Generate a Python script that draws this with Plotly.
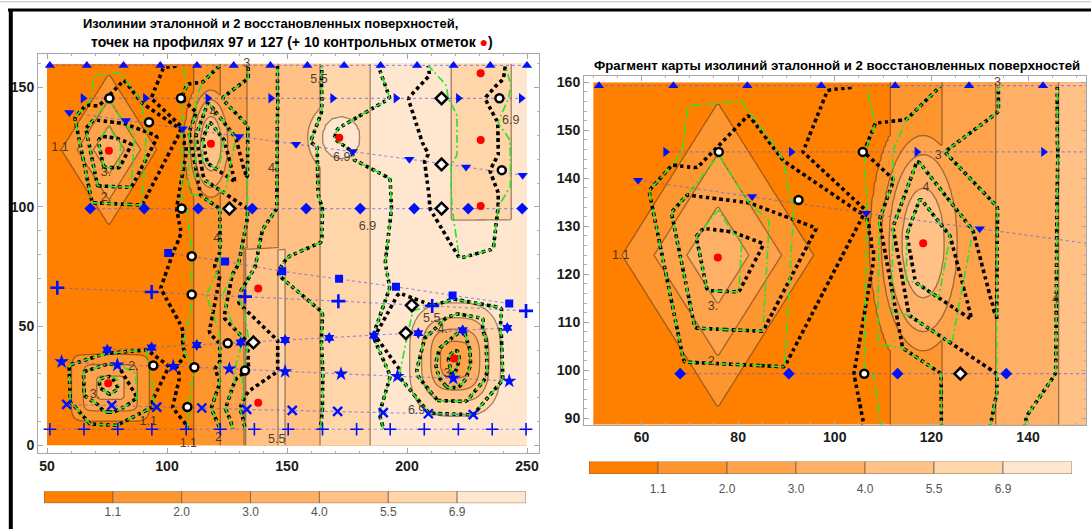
import numpy as np
import plotly.graph_objects as go

# ---------------- contour levels / colours ----------------
levels = [1.1, 2.0, 3.0, 4.0, 5.5, 6.9]
level_text = ["1.1", "2.0", "3.0", "4.0", "5.5", "6.9"]
band_colors = ["#FF8000", "#FE9630", "#FEA34B", "#FEB066", "#FFC185", "#FFD5AA", "#FFE7CF"]
band_span = [1, 1, 1, 1, 1, 1, 1]
band_base = [0, 1, 2, 3, 4, 5, 6]

# ---------------- reference surface ----------------
bg_x = [46.0, 111.6, 122.2, 133.3, 146.3, 163.75, 184.2, 256.0]
bg_z = [0.55, 1.1, 2.0, 3.0, 4.0, 5.5, 6.9, 7.6]

diamond = dict(cx=75.8, cy=124.0, p=1, ys=1.6, r=[0, 6.4, 13.2, 19.8, 32], z=[3.92, 3.0, 2.0, 1.1, 0.0])
oval = dict(cx=118.3, cy=126.5, p=2, ys=2.6, r=[0, 4.4, 7.1, 8.6, 11.0, 18.0], z=[5.2, 4.0, 3.0, 2.0, 1.1, 0.0])
square = dict(cx=76.4, cy=24.2, p=8, ys=0.863, r=[0, 5.7, 11.25, 16.1, 26], z=[3.9, 3.0, 2.0, 1.1, 0.0])
bump = dict(cx=172.6, cy=129.0, p=2, ys=1.12, r=[0, 8.0, 14.0, 22.0, 30.0], z=[7.25, 6.9, 5.5, 3.0, 0.0])
pit = dict(cx=220.1, cy=36.0, p=3, ys=1.25, r=[0, 6.3, 10.2, 14.0, 18.9, 24.0], z=[2.5, 3.0, 4.0, 5.5, 6.9, 7.7])
raise_x = [132.5, 149.0]
raise_y = [-10.0, 82.0]
raise_dz = 1.5
dip_x = [218.3, 243.6]
dip_y = [94.3, 170.0]
dip_z = 6.45

# ---------------- profile points (97) ----------------
p1_x = [51.2, 65.4, 79.5, 93.7, 108.0, 122.2, 136.4, 150.5, 164.8, 179.0, 193.0, 207.2, 221.4, 235.5, 249.6]
p1_y = [6.8, 6.8, 6.8, 6.8, 6.8, 6.8, 6.8, 6.8, 6.8, 6.8, 6.8, 6.8, 6.8, 6.8, 6.8]
p2_x = [58.2, 77.0, 95.7, 114.5, 133.2, 152.2, 171.1, 190.1, 208.9, 227.6]
p2_y = [17.2, 16.8, 16.1, 15.7, 15.1, 14.7, 14.3, 13.75, 13.3, 12.9]
p3_x = [56.1, 79.3, 102.6, 126.0, 149.2, 172.5, 196.0, 219.3, 242.6]
p3_y = [35.1, 33.75, 33.2, 32.1, 31.0, 30.0, 29.0, 28.2, 27.0]
p4_x = [75.1, 93.6, 112.4, 130.7, 149.2, 167.6, 186.25, 204.7, 223.2, 241.8]
p4_y = [40.1, 41.1, 42.1, 43.2, 44.2, 45.1, 46.0, 47.1, 48.3, 49.3]
p5_x = [54.3, 93.6, 132.5, 171.4, 210.5, 249.6]
p5_y = [66.1, 64.3, 62.4, 60.5, 58.5, 56.4]
p6_x = [100.5, 124.2, 148.0, 171.7, 195.4, 219.0, 242.6]
p6_y = [80.7, 77.1, 73.0, 69.9, 66.5, 62.9, 59.5]
p7_x = [68.0, 90.5, 113.0, 135.5, 158.0, 180.5, 203.0, 225.5, 248.0]
p7_y = [99.3, 99.3, 99.3, 99.3, 99.3, 99.3, 99.3, 99.3, 99.3]
p8_x = [59.3, 82.9, 106.5, 130.0, 153.75, 177.4, 201.0, 224.6, 248.2]
p8_y = [139.6, 136.2, 132.7, 129.5, 126.3, 123.25, 120.0, 116.7, 113.25]
p9_x = [65.0, 91.0, 117.0, 143.2, 169.0, 195.4, 221.4, 247.6]
p9_y = [145.5, 145.5, 145.5, 145.5, 145.5, 145.5, 145.5, 145.5]
p10_x = [51.2, 66.6, 81.9, 97.2, 112.5, 127.8, 143.1, 158.5, 173.8, 189.0, 204.2, 219.4, 234.7, 250.0]
p10_y = [159.3, 159.3, 159.3, 159.3, 159.3, 159.3, 159.3, 159.3, 159.3, 159.3, 159.3, 159.3, 159.3, 159.3]

profiles = [
    (p1_x, p1_y, "cross-thin", 9, 1.6),
    (p2_x, p2_y, "x-thin", 9, 2.4),
    (p3_x, p3_y, "star", 11, 0),
    (p4_x, p4_y, "hexagram", 9, 0),
    (p5_x, p5_y, "cross-thin", 10, 2.6),
    (p6_x, p6_y, "square", 8, 0),
    (p7_x, p7_y, "diamond", 9, 0),
    (p8_x, p8_y, "triangle-down", 9, 0),
    (p9_x, p9_y, "triangle-right", 9, 0),
    (p10_x, p10_y, "triangle-up", 9, 0),
]

exc_x = [76.0, 92.5, 105.8, 106.1, 110.3, 110.3, 94.3, 111.4, 108.5, 125.3, 132.5, 238.5, 239.5]
exc_y = [145.5, 135.5, 145.5, 99.3, 79.3, 63.3, 33.5, 32.8, 16.1, 42.8, 31.4, 145.5, 115.4]
exd_x = [126.0, 136.0, 214.4, 214.4, 214.4, 202.0, 199.5]
exd_y = [99.3, 43.2, 145.5, 117.8, 99.3, 58.75, 47.1]
red_x = [75.8, 118.3, 171.8, 230.7, 230.7, 230.7, 138.0, 138.0, 75.5, 219.6]
red_y = [123.5, 126.5, 129.0, 156.0, 128.0, 100.4, 65.8, 17.9, 26.1, 36.5]

labL_x = [55.4, 74.6, 74.6, 133.2, 119.2, 144.3, 121.4, 163.3, 172.8, 183.5, 243.2, 108.9, 121.4, 92.2, 86.0, 70.0, 145.7, 210.3, 214.9, 217.5, 204.0]
labL_y = [124.6, 114.3, 103.9, 159.9, 139.5, 116.1, 86.5, 153.2, 120.7, 91.8, 136.0, 0.6, 3.2, 9.9, 32.8, 21.25, 2.2, 53.2, 48.5, 30.0, 14.7]
labL_t = ["1.1", "3.", "2.", "3", "4", "4.", "4.", "5.5", "6.9", "6.9", "6.9", "1.1", "2", "1.1", "2.", "3.", "5.5", "5.5", "4.", "3.", "6.9"]
labR_x = [55.7, 74.8, 74.8, 133.7, 118.9, 121.4, 145.7]
labR_y = [123.9, 113.3, 101.8, 159.9, 138.1, 144.6, 114.7]
labR_t = ["1.1", "3.", "2.", "3", "4", "3", "4"]


def feature(X, Y, f):
    dx = np.abs(X - f["cx"])
    dy = np.abs(Y - f["cy"]) / f["ys"]
    d = (dx ** f["p"] + dy ** f["p"]) ** (1.0 / f["p"])
    return np.interp(d, f["r"], f["z"])


def ref_surface(X, Y):
    Z = np.interp(X, bg_x, bg_z)
    for f in (diamond, oval, square, bump):
        Z = np.maximum(Z, feature(X, Y, f))
    inr = (X >= raise_x[0]) & (X <= raise_x[1]) & (Y >= raise_y[0]) & (Y <= raise_y[1])
    Z = np.where(inr, Z + raise_dz, Z)
    ind = (X >= dip_x[0]) & (X <= dip_x[1]) & (Y >= dip_y[0]) & (Y <= dip_y[1])
    Z = np.where(ind, dip_z, Z)
    Z = np.minimum(Z, feature(X, Y, pit))
    return Z


map_in = [-5.0] + levels + [12.0]
map_out = [1 - (1.1 + 5.0) / 0.9, 1, 2, 3, 4, 5, 6, 6 + (12.0 - 6.9) / 1.4]


def to_idx(z):
    out = np.interp(np.nan_to_num(z, nan=0.0), map_in, map_out)
    out[np.isnan(z)] = np.nan
    return out


def delaunay(px, py):
    pts = np.column_stack([px, py]).astype(float)
    n = len(pts)
    cx, cy = pts.mean(0)
    span = np.ptp(pts, axis=0).max() * 50.0
    allp = np.vstack([pts, [[cx - span, cy - span], [cx + span, cy - span], [cx, cy + span]]])

    def circ(t):
        (ax, ay), (bx, by), (qx, qy) = allp[list(t)]
        d = 2 * (ax * (by - qy) + bx * (qy - ay) + qx * (ay - by))
        if abs(d) < 1e-12:
            return 0.0, 0.0, np.inf
        a2, b2, q2 = ax * ax + ay * ay, bx * bx + by * by, qx * qx + qy * qy
        ux = (a2 * (by - qy) + b2 * (qy - ay) + q2 * (ay - by)) / d
        uy = (a2 * (qx - bx) + b2 * (ax - qx) + q2 * (bx - ax)) / d
        return ux, uy, (ax - ux) ** 2 + (ay - uy) ** 2

    tris = {(n, n + 1, n + 2): circ((n, n + 1, n + 2))}
    for i in range(n):
        x, y = allp[i]
        bad = [t for t, (ux, uy, r2) in tris.items() if (x - ux) ** 2 + (y - uy) ** 2 < r2]
        cnt = {}
        for t in bad:
            for e in ((t[0], t[1]), (t[1], t[2]), (t[2], t[0])):
                k = (min(e), max(e))
                cnt[k] = cnt.get(k, 0) + 1
            del tris[t]
        for (a, b), c in cnt.items():
            if c == 1:
                t = (a, b, i)
                tris[t] = circ(t)
    return pts, [t for t in tris if max(t) < n]


def tri_interp(px, py, vals, gx, gy):
    pts, tris = delaunay(px, py)
    vals = np.asarray(vals, float)
    X, Y = np.meshgrid(gx, gy)
    Z = np.full(X.shape, np.nan)
    for a, b, c in tris:
        (x1, y1), (x2, y2), (x3, y3) = pts[a], pts[b], pts[c]
        det = (y2 - y3) * (x1 - x3) + (x3 - x2) * (y1 - y3)
        if abs(det) < 1e-12:
            continue
        i0 = np.searchsorted(gx, min(x1, x2, x3))
        i1 = np.searchsorted(gx, max(x1, x2, x3), side="right")
        j0 = np.searchsorted(gy, min(y1, y2, y3))
        j1 = np.searchsorted(gy, max(y1, y2, y3), side="right")
        if i1 <= i0 or j1 <= j0:
            continue
        sx = X[j0:j1, i0:i1]
        sy = Y[j0:j1, i0:i1]
        l1 = ((y2 - y3) * (sx - x3) + (x3 - x2) * (sy - y3)) / det
        l2 = ((y3 - y1) * (sx - x3) + (x1 - x3) * (sy - y3)) / det
        l3 = 1 - l1 - l2
        m = (l1 >= -1e-9) & (l2 >= -1e-9) & (l3 >= -1e-9)
        sub = Z[j0:j1, i0:i1]
        sub[m] = (l1 * vals[a] + l2 * vals[b] + l3 * vals[c])[m]
    return Z


blue_x = sum([p[0] for p in profiles], [])
blue_y = sum([p[1] for p in profiles], [])
setA_x = blue_x + red_x
setA_y = blue_y + red_y
setB_x = blue_x + exc_x + exd_x + red_x
setB_y = blue_y + exc_y + exd_y + red_y
valA = ref_surface(np.array(setA_x), np.array(setA_y))
valB = ref_surface(np.array(setB_x), np.array(setB_y))

cscale = []
for k, c in enumerate(band_colors):
    cscale.append([max(0.0, (k - 0.5) / 6), c])
    cscale.append([min(1.0, (k + 0.5) / 6), c])

fig = go.Figure()


def add_panel(xa, ya, gx, gy, lab_x, lab_y, lab_t):
    X, Y = np.meshgrid(gx, gy)
    zr = to_idx(ref_surface(X, Y)).astype(np.float32)
    za = to_idx(tri_interp(setA_x, setA_y, valA, gx, gy)).astype(np.float32)
    zb = to_idx(tri_interp(setB_x, setB_y, valB, gx, gy)).astype(np.float32)
    fig.add_trace(go.Contour(x=gx, y=gy, z=zr, xaxis=xa, yaxis=ya, autocontour=False,
                             contours=dict(start=1, end=6, size=1, coloring="fill", showlines=True),
                             colorscale=cscale, zmin=0.5, zmax=6.5, showscale=False,
                             line=dict(color="rgba(80,50,25,0.55)", width=1.3),
                             hoverinfo="skip"))
    fig.add_trace(go.Scatter(x=lab_x, y=lab_y, text=lab_t, mode="text", xaxis=xa, yaxis=ya,
                             textfont=dict(family="Liberation Sans", size=12.5, color="rgba(45,35,25,0.85)"),
                             hoverinfo="skip", showlegend=False))
    fig.add_trace(go.Contour(x=gx, y=gy, z=za, xaxis=xa, yaxis=ya, autocontour=False,
                             contours=dict(start=1, end=6, size=1, coloring="none"),
                             showscale=False, zmin=0.5, zmax=6.5,
                             line=dict(color="black", width=3.6, dash="3.6px,3.2px", smoothing=0),
                             hoverinfo="skip"))
    fig.add_trace(go.Contour(x=gx, y=gy, z=zb, xaxis=xa, yaxis=ya, autocontour=False,
                             contours=dict(start=1, end=6, size=1, coloring="none"),
                             showscale=False, zmin=0.5, zmax=6.5,
                             line=dict(color="#2FE02F", width=1.7, dash="8px,3px,2px,3px", smoothing=0),
                             hoverinfo="skip"))
    for (px, py, sym, size, lw) in profiles:
        fig.add_trace(go.Scatter(x=px, y=py, xaxis=xa, yaxis=ya, mode="lines+markers",
                                 line=dict(color="rgba(90,90,235,0.6)", width=1.2, dash="dot"),
                                 marker=dict(symbol=sym, size=size, color="#0010FF",
                                             line=dict(color="#0010FF", width=lw)),
                                 hoverinfo="skip", showlegend=False))
    fig.add_trace(go.Scatter(x=exc_x, y=exc_y, xaxis=xa, yaxis=ya, mode="markers",
                             marker=dict(symbol="circle", size=8, color="white", line=dict(color="black", width=2.5)),
                             hoverinfo="skip", showlegend=False))
    fig.add_trace(go.Scatter(x=exd_x, y=exd_y, xaxis=xa, yaxis=ya, mode="markers",
                             marker=dict(symbol="diamond", size=9, color="white", line=dict(color="black", width=2.5)),
                             hoverinfo="skip", showlegend=False))
    fig.add_trace(go.Scatter(x=red_x, y=red_y, xaxis=xa, yaxis=ya, mode="markers",
                             marker=dict(symbol="circle", size=8, color="#FF0000", line=dict(width=0)),
                             hoverinfo="skip", showlegend=False))


gxL = np.arange(50.0, 250.01, 1.0)
gyL = np.arange(0.0, 160.01, 1.0)
gxR = np.arange(50.0, 152.01, 0.5)
gyR = np.arange(88.0, 160.01, 0.5)
add_panel("x", "y", gxL, gyL, labL_x, labL_y, labL_t)
add_panel("x2", "y2", gxR, gyR, labR_x, labR_y, labR_t)

for xa, ya in (("x3", "y3"), ("x4", "y4")):
    fig.add_trace(go.Bar(x=band_span, base=band_base, y=[0, 0, 0, 0, 0, 0, 0], orientation="h",
                         width=1, xaxis=xa, yaxis=ya,
                         marker=dict(color=band_colors, line=dict(color="rgba(110,90,70,0.7)", width=1)),
                         hoverinfo="skip", showlegend=False))

W, H = 1091, 531


def px_dom_x(a, b):
    return [a / W, b / W]


def px_dom_y(top, bottom):
    return [1 - bottom / H, 1 - top / H]


tickfont = dict(family="Liberation Sans", size=14, color="#1a1a1a", weight="bold")


def frame_axis(dom, rng, anchor, tick0, dtick, mtick):
    return dict(domain=dom, range=rng, anchor=anchor, showgrid=False, zeroline=False,
                showline=True, linecolor="#a8a8a8", linewidth=1, mirror="ticks",
                ticks="inside", ticklen=5, tickcolor="#a8a8a8", tick0=tick0, dtick=dtick,
                minor=dict(tick0=tick0, dtick=mtick, ticks="inside", ticklen=2.5, tickcolor="#b0b0b0", showgrid=False),
                tickfont=tickfont, fixedrange=True)


def bar_x_axis(dom, anchor, standoff):
    return dict(domain=dom, range=[0, 7], anchor=anchor, showgrid=False, zeroline=False,
                showline=False, ticks="", tickvals=[1, 2, 3, 4, 5, 6], ticktext=level_text,
                tickfont=dict(family="Liberation Sans", size=12, color="#555555"),
                ticklabelstandoff=standoff, fixedrange=True)


def bar_y_axis(dom, anchor):
    return dict(domain=dom, range=[-0.5, 0.5], anchor=anchor, visible=False, fixedrange=True)


fig.update_layout(
    width=W, height=H, margin=dict(l=0, r=0, t=0, b=0),
    paper_bgcolor="white", plot_bgcolor="white", showlegend=False, barmode="overlay",
    xaxis=frame_axis(px_dom_x(38, 539), [46.25, 255.0], "y", 50, 50, 10),
    yaxis=frame_axis(px_dom_y(53, 455), [-3.33, 164.2], "x", 0, 50, 10),
    xaxis2=frame_axis(px_dom_x(584, 1086), [48.1, 152.0], "y2", 60, 20, 5),
    yaxis2=frame_axis(px_dom_y(75, 426), [88.7, 161.4], "x2", 90, 10, 2),
    xaxis3=bar_x_axis(px_dom_x(44, 526), "y3", 0),
    yaxis3=bar_y_axis(px_dom_y(493, 505), "x3"),
    xaxis4=bar_x_axis(px_dom_x(589, 1072), "y4", 6),
    yaxis4=bar_y_axis(px_dom_y(463, 475.6), "x4"),
    font=dict(family="Liberation Sans"),
    annotations=[
        dict(text="<b>Изолинии эталонной и 2 восстановленных поверхностей,</b>", x=270 / W, y=1 - 23 / H,
             xref="paper", yref="paper", xanchor="center", yanchor="middle", showarrow=False,
             font=dict(family="Liberation Sans", size=13.0, color="black")),
        dict(text="<b>точек на профилях 97 и 127 (+ 10 контрольных отметок <span style='color:#FF0000'>●</span>)</b>",
             x=292 / W, y=1 - 41 / H, xref="paper", yref="paper", xanchor="center", yanchor="middle",
             showarrow=False, font=dict(family="Liberation Sans", size=14.0, color="black")),
        dict(text="<b>Фрагмент карты изолиний эталонной и 2 восстановленных поверхностей</b>",
             x=837 / W, y=1 - 64.5 / H, xref="paper", yref="paper", xanchor="center", yanchor="middle",
             showarrow=False, font=dict(family="Liberation Sans", size=13.2, color="black")),
    ],
    shapes=[
        dict(type="line", xref="paper", yref="paper", x0=0, x1=1, y0=1 - 0.8 / H, y1=1 - 0.8 / H,
             line=dict(color="#bdbdbd", width=1)),
        dict(type="line", xref="paper", yref="paper", x0=8 / W, x1=1, y0=1 - 9 / H, y1=1 - 9 / H,
             line=dict(color="black", width=3)),
        dict(type="line", xref="paper", yref="paper", x0=10.8 / W, x1=10.8 / W, y0=0, y1=1 - 8 / H,
             line=dict(color="black", width=4)),
    ],
)

fig.write_html("out.html")
